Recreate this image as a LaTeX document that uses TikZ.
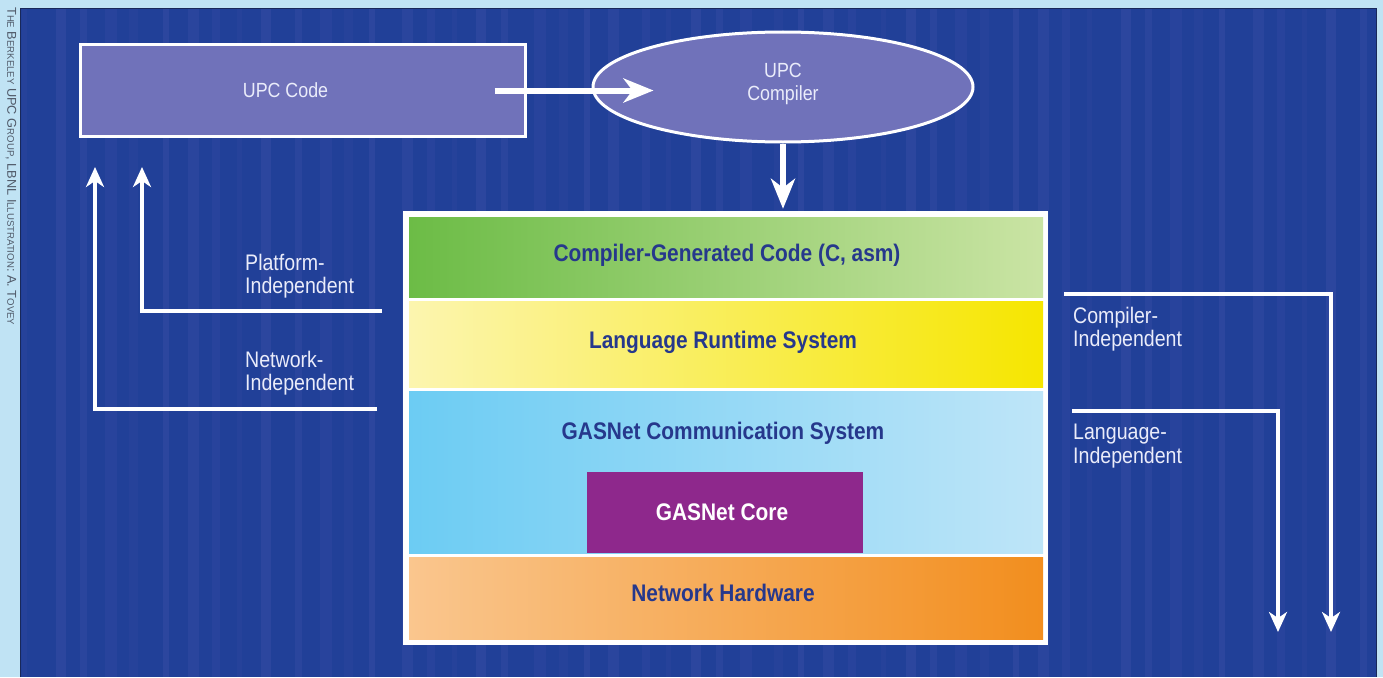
\documentclass[tikz,border=0pt]{standalone}
\usepackage{fontspec}
\setmainfont{Liberation Sans}
\newfontfamily\labfont[FakeStretch=0.87]{Liberation Sans}
\usetikzlibrary{arrows.meta,shapes.geometric}
\definecolor{bgblue}{RGB}{33,64,152}
\definecolor{strip}{RGB}{192,227,244}
\definecolor{edge}{RGB}{25,40,90}
\definecolor{boxfill}{RGB}{112,114,186}
\definecolor{navy}{RGB}{38,56,140}
\definecolor{labwhite}{RGB}{234,236,250}
\definecolor{greenL}{RGB}{108,188,70}
\definecolor{greenR}{RGB}{202,228,164}
\definecolor{yelL}{RGB}{252,245,175}
\definecolor{yelR}{RGB}{246,230,0}
\definecolor{blueL}{RGB}{108,204,243}
\definecolor{blueR}{RGB}{190,229,248}
\definecolor{orL}{RGB}{250,198,142}
\definecolor{orR}{RGB}{242,142,30}
\definecolor{core}{RGB}{142,40,140}
\definecolor{credit}{RGB}{80,90,105}
\definecolor{stripe}{RGB}{120,110,200}
\newcommand\mysc[1]{{\fontsize{7.5}{8}\selectfont #1}}
\tikzset{
  upcbox/.style={draw=white, line width=3pt, fill=boxfill, inner sep=0pt},
  lab/.style={text=labwhite, inner sep=0pt, align=left, font=\labfont\fontsize{20.5}{23}\selectfont},
  sidelab/.style={lab, font=\labfont\fontsize{22.5}{23.5}\selectfont},
  layer/.style={minimum width=634pt, inner sep=0pt, draw=none},
  laytext/.style={text=navy, inner sep=0pt, font=\labfont\bfseries\fontsize{24}{26}\selectfont},
  bigarrow/.style={draw=white, line width=6pt, -{Stealth[length=30pt,width=24pt,inset=9pt]}},
  sidearrow/.style={draw=white, line width=4pt, -{Stealth[length=20pt,width=18pt,inset=6pt]}}
}
\begin{document}
\begin{tikzpicture}[x=1pt,y=-1pt]
% background
\fill[strip] (0,0) rectangle (1383,677);
\useasboundingbox (0,0) rectangle (1383,677);
\fill[bgblue] (20,8) rectangle (1377,677);
\foreach \i in {0,...,50}{
  \pgfmathsetmacro\xx{22+26.6*\i+mod(\i*7,9)}
  \pgfmathsetmacro\ww{5+mod(\i*5,8)}
  \pgfmathsetmacro\op{0.06+0.025*mod(\i*3,4)}
  \fill[stripe, opacity=\op] (\xx,8) rectangle ++(\ww,669);
}
\draw[edge, line width=1.5pt] (20.5,677) -- (20.5,8.5) -- (1376.5,8.5) -- (1376.5,677);
% credit
\node[rotate=-90, anchor=west, inner sep=0pt, text=credit] (credit) at (11,7)
  {\resizebox{318pt}{!}{T\mysc{HE} B\mysc{ERKELEY} UPC G\mysc{ROUP}, LBNL I\mysc{LLUSTRATION}: A. T\mysc{OVEY}}};
% top row
\node[upcbox, minimum width=445pt, minimum height=91pt] (code) at (302.5,90.5) {};
\node[lab] (codetxt) at ([xshift=-17pt]code.center) {UPC Code};
\node[upcbox, ellipse, minimum width=380pt, minimum height=110pt] (comp) at (783,87) {};
\node[lab, align=center] (comptxt) at (783,84) {UPC\\Compiler};
\draw[bigarrow] ([xshift=-32pt]code.east) -- ([xshift=62pt]comp.west |- code.east);
% stack
\node[fill=white, minimum width=645pt, minimum height=434pt, inner sep=0pt] (stack) at (725.5,428) {};
\draw[bigarrow] (comp.south) -- ([yshift=2pt]comp.south |- stack.north);
\node[layer, minimum height=80pt, left color=greenL, right color=greenR] (gen) at (726,257) {};
\node[layer, minimum height=86pt, left color=yelL, right color=yelR] (lrs) at (726,344) {};
\node[layer, minimum height=162pt, left color=blueL, right color=blueR] (gas) at (726,472) {};
\node[layer, minimum height=82pt, left color=orL, right color=orR] (hw) at (726,598) {};
\node[fill=core, minimum width=276pt, minimum height=81pt, inner sep=0pt] (core) at (725,512.5) {};
\node[laytext] (gentxt) at (727,255) {Compiler-Generated Code (C, asm)};
\node[laytext] (lrstxt) at (723,342) {Language Runtime System};
\node[laytext] (gastxt) at (723,433) {GASNet Communication System};
\node[laytext, text=white] (coretxt) at (722,512) {GASNet Core};
\node[laytext] (hwtxt) at (723,593) {Network Hardware};
% left arrows
\coordinate (platS) at (382,311);
\coordinate (platT) at (142,167);
\coordinate (netS) at (377,409);
\coordinate (netT) at (95,167);
\draw[sidearrow] (platS) -- (platS -| platT) -- (platT);
\draw[sidearrow] (netS) -- (netS -| netT) -- (netT);
\node[sidelab, anchor=west] (plat) at (245,276) {Platform-\\Independent};
\node[sidelab, anchor=west] (net) at (245,373) {Network-\\Independent};
% right arrows
\coordinate (compS) at (1064,294);
\coordinate (compT) at (1331,632);
\coordinate (langS) at (1072,411);
\coordinate (langT) at (1278,632);
\draw[sidearrow] (compS) -- (compS -| compT) -- (compT);
\draw[sidearrow] (langS) -- (langS -| langT) -- (langT);
\node[sidelab, anchor=west] (cind) at (1073,329) {Compiler-\\Independent};
\node[sidelab, anchor=west] (lind) at (1073,446) {Language-\\Independent};
\end{tikzpicture}
\end{document}
